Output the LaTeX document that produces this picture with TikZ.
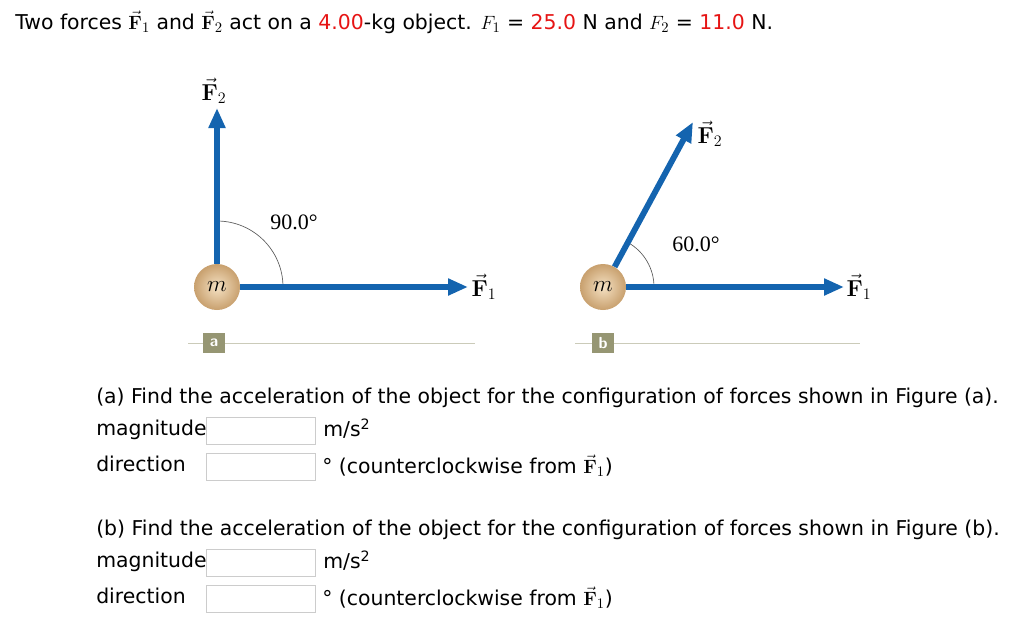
\documentclass[tikz,border=0pt]{standalone}
\usepackage[no-math]{fontspec}
\setmainfont{DejaVu Sans}
\newfontfamily\figfont{Liberation Serif}
\usetikzlibrary{arrows.meta}
\definecolor{fblue}{RGB}{20,100,175}
\definecolor{olivebox}{RGB}{150,150,115}
\definecolor{redt}{RGB}{230,20,20}
\definecolor{ballin}{RGB}{245,225,195}
\definecolor{ballout}{RGB}{200,160,110}
\newcommand{\vF}[1]{$\vec{\mathbf{F}}_{#1}$}
\begin{document}
\begin{tikzpicture}[x=0.75pt,y=-0.75pt,
  force/.style={draw=fblue,line width=4.4pt,-{Triangle[length=15pt,width=12pt]}},
  ball/.style={circle,minimum size=46*0.75pt,inner sep=0pt,shade,inner color=ballin,outer color=ballout,draw=none},
  flab/.style={font=\figfont\fontsize{16.5}{18}\selectfont,inner sep=1pt},
  txt/.style={anchor=west,inner sep=0pt,font=\fontsize{15.3}{17}\selectfont},
  abox/.style={draw=gray!40,minimum width=109*0.75pt,minimum height=27*0.75pt,inner sep=0pt,anchor=west},
  tag/.style={fill=olivebox,text=white,font=\sffamily\bfseries\fontsize{12}{12}\selectfont,minimum width=16pt,minimum height=15pt,inner sep=0pt},
  base/.style={draw=olivebox!50,line width=0.6pt}]
\useasboundingbox (0,0) rectangle (1024,622);
\node[txt] (title) at (15,22) {Two forces \vF1 and \vF2 act on a \textcolor{redt}{4.00}-kg object. $F_1$ = \textcolor{redt}{25.0} N and $F_2$ = \textcolor{redt}{11.0} N.};
% figure a
\coordinate (la) at (188,343); \coordinate (ra) at (475,343);
\draw[base] (la) -- (ra);
\node[tag] (ta) at (214,343) {a};
\node[ball] (ma) at (217,287) {};
\node[flab] at (ma) {$m$};
\draw[gray!70!black,line width=0.5pt] (217,221) arc[start angle=-90,end angle=0,radius=66];
\coordinate (a2) at (217,108); \coordinate (a1) at (468,287);
\draw[force] (ma.north) -- (a2);
\draw[force] (ma.east) -- (a1);
\node[flab] (fa2) at (214,91) {\vF2};
\node[flab] (fa1) at (484,287) {\vF1};
\node[flab] (ang1) at (294,222) {90.0°};
% figure b
\coordinate (lb) at (575,343); \coordinate (rb) at (860,343);
\draw[base] (lb) -- (rb);
\node[tag] (tb) at (603,343) {b};
\node[ball] (mb) at (603,287) {};
\node[flab] at (mb) {$m$};
\draw[gray!70!black,line width=0.5pt] (654,287) arc[start angle=0,end angle=-60,radius=51];
\coordinate (b2) at (693,122); \coordinate (b1) at (844,287);
\draw[force] (mb.60) -- (b2);
\draw[force] (mb.east) -- (b1);
\node[flab] (fb2) at (710,134) {\vF2};
\node[flab] (fb1) at (859,287) {\vF1};
\node[flab] (ang2) at (696,244) {60.0°};
% questions
\node[txt] (qa) at (96,398) {(a) Find the acceleration of the object for the configuration of forces shown in Figure (a).};
\node[txt] (m1) at (96,430) {magnitude};
\node[abox] (b1m) at (206,431) {};
\node[txt] (u1) at (323,429) {m/s\textsuperscript{2}};
\node[txt] (d1) at (96,464) {direction};
\node[abox] (b1d) at (206,467) {};
\node[txt] (u2) at (322,466) {° (counterclockwise from \vF1)};
\node[txt] (qb) at (96,530) {(b) Find the acceleration of the object for the configuration of forces shown in Figure (b).};
\node[txt] (m2) at (96,562) {magnitude};
\node[abox] (b2m) at (206,563) {};
\node[txt] (u3) at (323,561) {m/s\textsuperscript{2}};
\node[txt] (d2) at (96,596) {direction};
\node[abox] (b2d) at (206,599) {};
\node[txt] (u4) at (322,598) {° (counterclockwise from \vF1)};
\end{tikzpicture}
\end{document}
